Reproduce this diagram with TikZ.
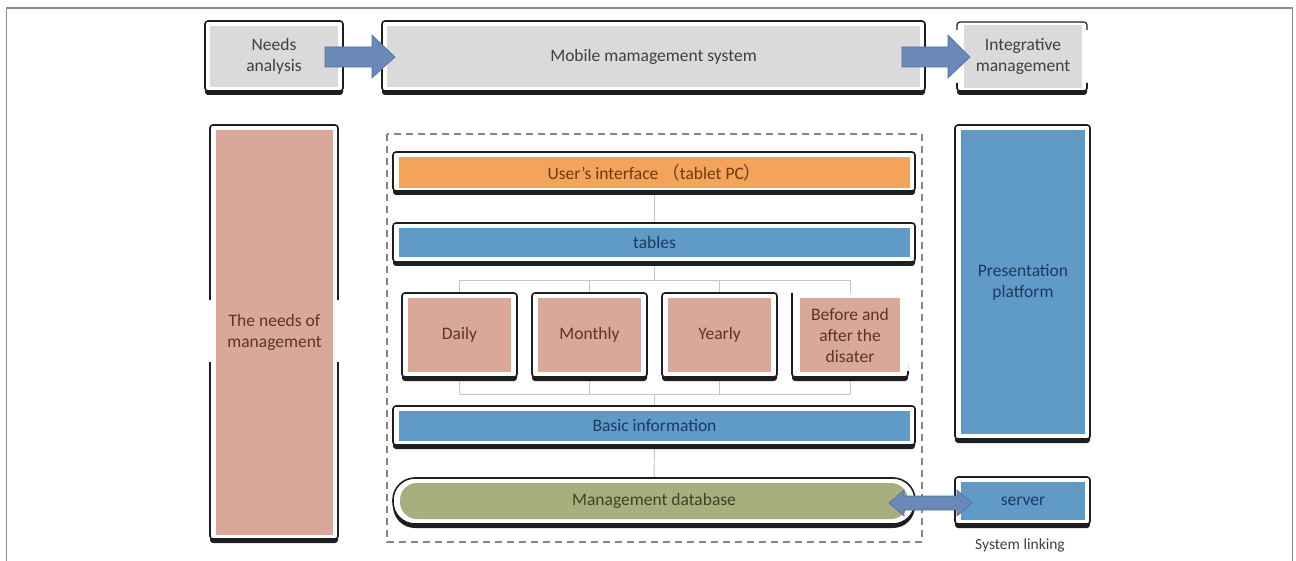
\documentclass[tikz,border=0pt]{standalone}
\usepackage{fontspec}
\setmainfont{Carlito}
\newfontfamily\cjk{Noto Sans CJK SC}
\usetikzlibrary{calc}
\pgfdeclarelayer{conn}
\pgfdeclarelayer{frames}
\pgfsetlayers{conn,frames,main}
\definecolor{framec}{HTML}{1E1E1E}
\definecolor{graybox}{HTML}{DADADA}
\definecolor{salmon}{HTML}{D9A898}
\definecolor{bluebox}{HTML}{5F9BC6}
\definecolor{orangebox}{HTML}{F4A45A}
\definecolor{olivebox}{HTML}{A8AF7E}
\definecolor{arrowc}{HTML}{6A88B8}
\definecolor{arrowedge}{HTML}{4F6E9E}
\definecolor{treec}{HTML}{C4C4C4}
\definecolor{dashc}{HTML}{858585}
\definecolor{outerc}{HTML}{8C8C8C}
\definecolor{txtgray}{HTML}{404040}
\definecolor{txtbrown}{HTML}{5A3528}
\definecolor{txtnavy}{HTML}{1C3A60}
\definecolor{txtorange}{HTML}{6A3A10}
\definecolor{txtolive}{HTML}{3E4222}
\tikzset{
  inbox/.style={rectangle, inner sep=2pt, align=center, font=\fontsize{17.5}{21}\selectfont},
  tree/.style={draw=treec, line width=0.9pt},
  blockarrow/.style={fill=arrowc, draw=arrowedge, line width=0.6pt},
  frameline/.style={draw=framec, line width=1.6pt, rounded corners=3pt},
  shadowc/.style={fill=framec, rounded corners=3pt},
}
\newcommand\shadowframe[5][3pt]{%
  \begin{pgfonlayer}{frames}
  \fill[shadowc, rounded corners=#1] (#2,#3+4) rectangle (#4,#5+4);
  \path[frameline, fill=white, rounded corners=#1] (#2,#3) rectangle (#4,#5);
  \end{pgfonlayer}}
\begin{document}
\begin{tikzpicture}[x=1pt,y=-1pt]
\useasboundingbox (0,0) rectangle (1296,561);
\begin{pgfonlayer}{conn}
\fill[white] (0,0) rectangle (1296,561);
\draw[dashc, line width=1.3pt, dash pattern=on 7pt off 5pt] (387,134) rectangle (922,542);
\end{pgfonlayer}
% outer frame
\draw[outerc, line width=1.6pt] (6.5,561) -- (6.5,8) -- (1292.5,8) -- (1292.5,561);

% ---- top row
\shadowframe{205}{21}{343}{91}
\node[inbox, fill=graybox, text=txtgray, minimum width=128pt, minimum height=61pt] (needs) at (274,56.5) {Needs\\analysis};
\shadowframe{382}{21}{925}{91}
\node[inbox, fill=graybox, text=txtgray, minimum width=533pt, minimum height=61pt] (mobile) at (653.5,56.5) {Mobile mamagement system};
\begin{pgfonlayer}{frames}
\fill[shadowc] (957,80) rectangle (1087,95);
\fill[white] (957,22) rectangle (1087,91);
\draw[frameline, line width=1.2pt] (957,30) -- (957,22) -- (1087,22) -- (1087,30);
\draw[frameline] (957,83) -- (957,91) -- (1087,91) -- (1087,83);
\end{pgfonlayer}
\node[inbox, fill=graybox, text=txtgray, minimum width=118pt, minimum height=63pt] (integ) at (1023,56.5) {Integrative\\management};

% ---- left tall box
\begin{pgfonlayer}{frames}
\fill[shadowc] (210,500) rectangle (338,543);
\fill[white] (210,125) rectangle (338,539);
\draw[frameline] (210,300) -- (210,125) -- (338,125) -- (338,300);
\draw[frameline] (210,362) -- (210,539) -- (338,539) -- (338,362);
\end{pgfonlayer}
\node[inbox, fill=salmon, text=txtbrown, minimum width=117pt, minimum height=405pt] (needmgmt) at (274.5,332.5) {The needs of\\management};

% ---- right tall box
\shadowframe{955}{125}{1090}{439}
\node[inbox, fill=bluebox, text=txtnavy, minimum width=124pt, minimum height=304pt] (present) at (1023,282) {Presentation\\platform};

% ---- central column
\shadowframe{393}{152}{915}{191}
\node[inbox, fill=orangebox, text=txtorange, minimum width=511pt, minimum height=31pt] (ui) at (654.5,172.5) {User's interface {\cjk （}tablet PC{\cjk ）}};
\shadowframe{393}{223}{915}{262}
\node[inbox, fill=bluebox, text=txtnavy, minimum width=511pt, minimum height=29pt] (tables) at (654.5,242.5) {tables};

\shadowframe{402}{293}{517}{377}
\node[inbox, fill=salmon, text=txtbrown, minimum width=103pt, minimum height=74pt] (daily) at (459.5,335) {Daily};
\shadowframe{532}{293}{647}{377}
\node[inbox, fill=salmon, text=txtbrown, minimum width=103pt, minimum height=74pt] (monthly) at (589.5,335) {Monthly};
\shadowframe{662}{293}{777}{377}
\node[inbox, fill=salmon, text=txtbrown, minimum width=103pt, minimum height=74pt] (yearly) at (719.5,335) {Yearly};
\begin{pgfonlayer}{frames}
\fill[shadowc] (792,360) rectangle (908,381);
\fill[white] (792,293) rectangle (908,377);
\draw[frameline] (792,293) -- (792,377) -- (908,377) -- (908,371);
\end{pgfonlayer}
\node[inbox, fill=salmon, text=txtbrown, minimum width=100pt, minimum height=74pt] (before) at (850,335) {Before and\\after the\\disater};

\shadowframe{393}{406}{915}{445}
\node[inbox, fill=bluebox, text=txtnavy, minimum width=511pt, minimum height=30pt] (basic) at (654.5,426) {Basic information};

\shadowframe[22pt]{393}{478}{915}{524}
\node[inbox, fill=olivebox, text=txtolive, rounded corners=17pt, minimum width=508pt, minimum height=36pt] (db) at (654,501) {Management database};

\shadowframe{955}{477}{1090}{524}
\node[inbox, fill=bluebox, text=txtnavy, minimum width=124pt, minimum height=38pt] (server) at (1023,501) {server};
\node[inbox, text=txtgray, font=\fontsize{15.5}{18}\selectfont] (linking) at (1020,545) {System linking};

% ---- tree connectors
\coordinate (tj1) at (654.5,280);
\coordinate (tj2) at (654.5,394);
\begin{pgfonlayer}{conn}
\draw[tree] (ui.south) -- (tables.north);
\draw[tree] (tables.south) -- (tj1);
\draw[tree] (daily.north |- tj1) -- (before.north |- tj1);
\foreach \b in {daily,monthly,yearly,before} {
  \draw[tree] (\b.north |- tj1) -- (\b.north);
  \draw[tree] (\b.south) -- (\b.south |- tj2);
}
\draw[tree] (daily.south |- tj2) -- (before.south |- tj2);
\draw[tree] (tj2) -- (basic.north);
\draw[tree] (basic.south) -- (db.north);
\end{pgfonlayer}

% ---- block arrows
\path[blockarrow] (325,47) -- (372,47) -- (372,35) -- (395,57) -- (372,78) -- (372,67) -- (325,67) -- cycle;
\path[blockarrow] (902,47) -- (948,47) -- (948,35) -- (970,57) -- (948,78) -- (948,67) -- (902,67) -- cycle;
\path[blockarrow] (889,503) -- (904,490) -- (904,496) -- (957,496) -- (957,490) -- (972,503) -- (957,516) -- (957,510) -- (904,510) -- (904,516) -- cycle;
\end{tikzpicture}
\end{document}
